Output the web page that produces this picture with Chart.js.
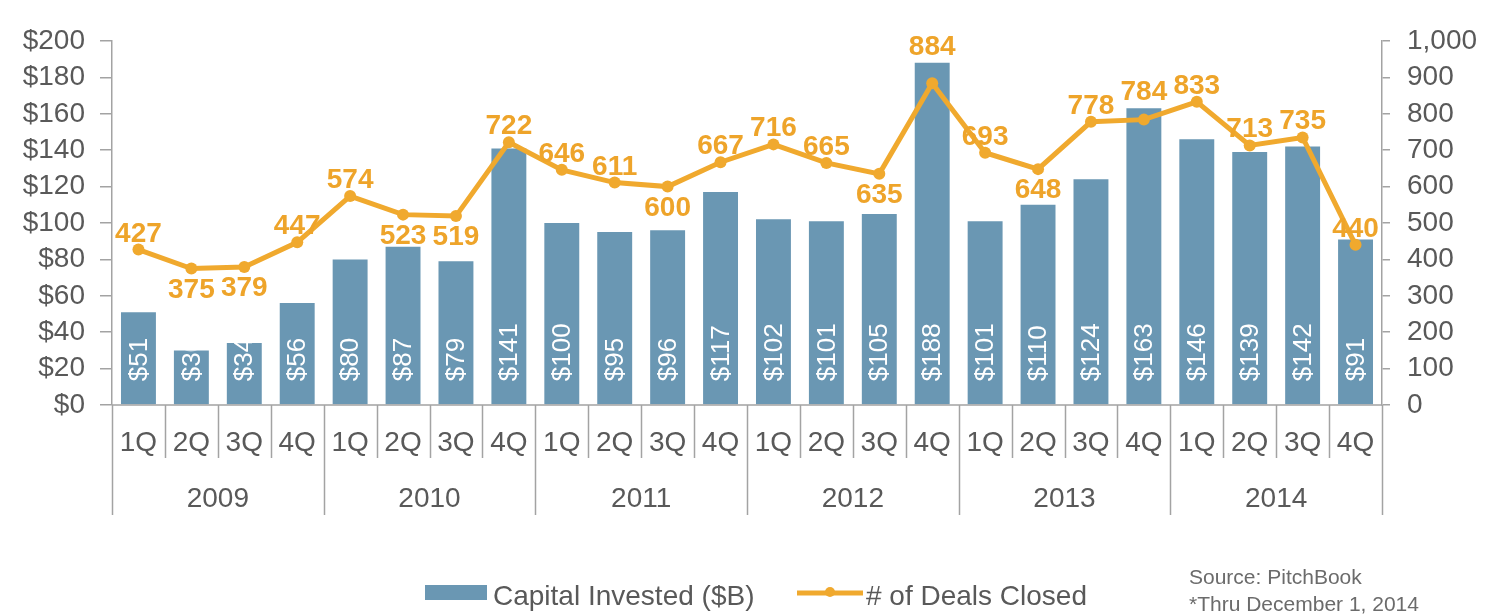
<!DOCTYPE html>
<html lang="en">

<head>
    <title>Capital Invested and Deals Closed</title>
    <script src="https://cdn.jsdelivr.net/npm/chart.js"></script>
    <style>
        body { margin: 0; background: #fff; }
    </style>
</head>

<body>
    <canvas id="comboChart" width="1500" height="616"></canvas>

    <script>
        // chart values
        const quarters = ['1Q', '2Q', '3Q', '4Q', '1Q', '2Q', '3Q', '4Q', '1Q', '2Q', '3Q', '4Q',
            '1Q', '2Q', '3Q', '4Q', '1Q', '2Q', '3Q', '4Q', '1Q', '2Q', '3Q', '4Q'];
        const years = ['2009', '2010', '2011', '2012', '2013', '2014'];
        const capitalInvested = [51, 30, 34, 56, 80, 87, 79, 141, 100, 95, 96, 117,
            102, 101, 105, 188, 101, 110, 124, 163, 146, 139, 142, 91];
        const dealsClosed = [427, 375, 379, 447, 574, 523, 519, 722, 646, 611, 600, 667,
            716, 665, 635, 884, 693, 648, 778, 784, 833, 713, 735, 440];
        const dollarTicks = { min: 0, max: 200, step: 20 };
        const dealTicks = { min: 0, max: 1000, step: 100 };
        // which deal labels sit under their point
        const labelsBelow = [1, 2, 5, 6, 10, 14, 17];

        const barColor = '#6a97b3';
        const lineColor = '#f0a92e';
        const labelOrange = '#eea42a';
        const axisGray = '#a3a3a3';
        const textGray = '#595959';
        const fontFamily = '"Liberation Sans", Arial, sans-serif';

        Chart.defaults.font.family = fontFamily;

        // labels, two-level x axis, legend and source note
        const extrasPlugin = {
            id: 'extras',
            afterDatasetsDraw(chart) {
                const ctx = chart.ctx;
                const area = chart.chartArea;
                const xs = chart.scales.x;
                const bars = chart.getDatasetMeta(0).data;
                const points = chart.getDatasetMeta(1).data;
                const n = quarters.length;
                const catW = (area.right - area.left) / n;

                // values inside the bars, clipped to the bar
                bars.forEach((bar, i) => {
                    const w = bar.width;
                    ctx.save();
                    ctx.beginPath();
                    ctx.rect(bar.x - w / 2, bar.y, w, bar.base - bar.y);
                    ctx.clip();
                    ctx.translate(bar.x, bar.base - 23);
                    ctx.rotate(-Math.PI / 2);
                    ctx.fillStyle = '#ffffff';
                    ctx.font = '26px ' + fontFamily;
                    ctx.textAlign = 'left';
                    ctx.textBaseline = 'middle';
                    ctx.fillText('$' + capitalInvested[i], 0, 1);
                    ctx.restore();
                });

                // deal counts
                ctx.save();
                ctx.fillStyle = labelOrange;
                ctx.font = 'bold 28px ' + fontFamily;
                ctx.textAlign = 'center';
                ctx.textBaseline = 'alphabetic';
                points.forEach((pt, i) => {
                    let y;
                    if (labelsBelow.includes(i)) {
                        y = pt.y + 29;
                    } else {
                        // keep clear of a bar that rises well past the point
                        const top = bars[i].y < pt.y - 10 ? bars[i].y : pt.y;
                        y = top - 8;
                    }
                    ctx.fillText(String(dealsClosed[i]), pt.x, y);
                });
                ctx.restore();

                // baseline and category separators
                ctx.save();
                ctx.strokeStyle = axisGray;
                ctx.lineWidth = 1.5;
                ctx.beginPath();
                ctx.moveTo(area.left, area.bottom);
                ctx.lineTo(area.right, area.bottom);
                for (let i = 0; i <= n; i++) {
                    const x = Math.round(area.left + i * catW) + 0.5;
                    const len = (i % 4 === 0) ? 110 : 53;
                    ctx.moveTo(x, area.bottom);
                    ctx.lineTo(x, area.bottom + len);
                }
                ctx.stroke();

                ctx.fillStyle = textGray;
                ctx.font = '28px ' + fontFamily;
                ctx.textAlign = 'center';
                ctx.textBaseline = 'middle';
                quarters.forEach((q, i) => {
                    ctx.fillText(q, xs.getPixelForValue(i), area.bottom + 38);
                });
                years.forEach((yr, k) => {
                    const x = (xs.getPixelForValue(k * 4) + xs.getPixelForValue(k * 4 + 3)) / 2;
                    ctx.fillText(yr, x, area.bottom + 94);
                });

                // legend
                ctx.textAlign = 'left';
                ctx.textBaseline = 'alphabetic';
                ctx.fillStyle = barColor;
                ctx.fillRect(425, 585, 62, 15);
                ctx.fillStyle = textGray;
                ctx.fillText(chart.data.datasets[0].label, 493, 605);

                ctx.strokeStyle = lineColor;
                ctx.lineWidth = 5;
                ctx.beginPath();
                ctx.moveTo(797, 593);
                ctx.lineTo(863, 593);
                ctx.stroke();
                ctx.fillStyle = lineColor;
                ctx.beginPath();
                ctx.arc(830, 592, 5, 0, Math.PI * 2);
                ctx.fill();
                ctx.fillStyle = textGray;
                ctx.fillText(chart.data.datasets[1].label, 866, 605);

                // source note
                ctx.fillStyle = '#6b6b6b';
                ctx.font = '21px ' + fontFamily;
                ctx.fillText('Source: PitchBook', 1189, 584);
                ctx.fillText('*Thru December 1, 2014', 1189, 611);
                ctx.restore();
            }
        };

        const ctx = document.getElementById('comboChart').getContext('2d');
        new Chart(ctx, {
            data: {
                labels: quarters,
                datasets: [
                    {
                        type: 'bar',
                        label: 'Capital Invested ($B)',
                        data: capitalInvested,
                        backgroundColor: barColor,
                        yAxisID: 'y',
                        order: 2,
                        categoryPercentage: 1,
                        barPercentage: 0.66,
                    },
                    {
                        type: 'line',
                        label: '# of Deals Closed',
                        data: dealsClosed,
                        borderColor: lineColor,
                        backgroundColor: lineColor,
                        borderWidth: 5,
                        pointRadius: 6,
                        pointBackgroundColor: lineColor,
                        pointBorderWidth: 0,
                        tension: 0,
                        yAxisID: 'y2',
                        order: 1,
                    },
                ],
            },
            options: {
                responsive: false,
                animation: false,
                layout: {
                    padding: { top: 41, bottom: 211, left: 0, right: 0 },
                },
                plugins: {
                    legend: { display: false },
                    tooltip: { enabled: false },
                },
                scales: {
                    x: {
                        display: false,
                        offset: true,
                    },
                    y: {
                        position: 'left',
                        min: dollarTicks.min,
                        max: dollarTicks.max,
                        afterFit: (scale) => { scale.width = 112; },
                        ticks: {
                            stepSize: dollarTicks.step,
                            autoSkip: false,
                            callback: (v) => '$' + v,
                            color: textGray,
                            font: { size: 28 },
                            padding: 15,
                        },
                        grid: {
                            drawOnChartArea: false,
                            drawTicks: true,
                            tickLength: 12,
                            color: axisGray,
                            lineWidth: 1.5,
                        },
                        border: { color: axisGray, width: 1.5 },
                    },
                    y2: {
                        position: 'right',
                        min: dealTicks.min,
                        max: dealTicks.max,
                        afterFit: (scale) => { scale.width = 118; },
                        ticks: {
                            stepSize: dealTicks.step,
                            autoSkip: false,
                            callback: (v) => v.toLocaleString('en-US'),
                            color: textGray,
                            font: { size: 28 },
                            padding: 17,
                        },
                        grid: {
                            drawOnChartArea: false,
                            drawTicks: true,
                            tickLength: 8,
                            color: axisGray,
                            lineWidth: 1.5,
                        },
                        border: { color: axisGray, width: 1.5 },
                    },
                },
            },
            plugins: [extrasPlugin],
        });
    </script>
</body>

</html>
